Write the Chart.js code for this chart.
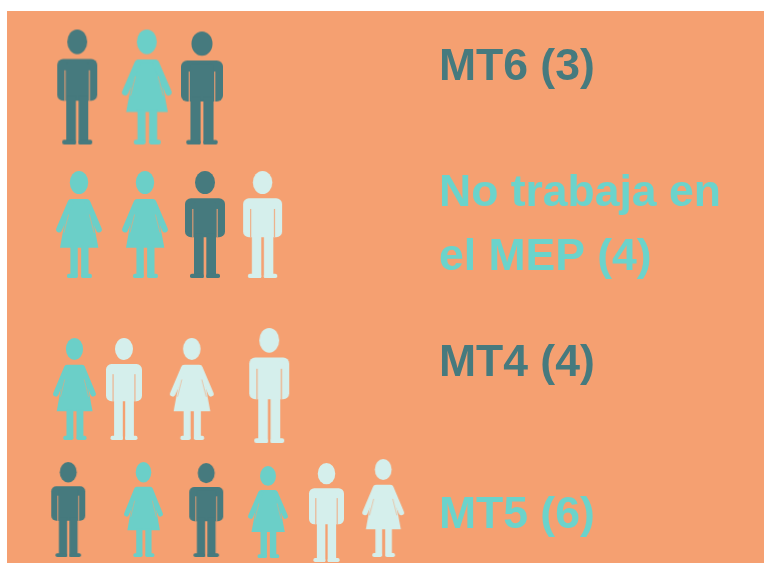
<!DOCTYPE html>
<html lang="es">
<head>
<meta charset="utf-8">
<title>Personas por categoría</title>
<script src="https://cdn.jsdelivr.net/npm/chart.js@4"></script>
<style>
  body { margin: 0; background: #fff; }
  #grafico { position: absolute; left: 7px; top: 11px; background: #F5A071; filter: blur(0.7px); }
</style>
</head>
<body>
<canvas id="grafico" width="757" height="552"></canvas>
<script>
// Datos
const categorias = ['MT6 (3)', ['No trabaja en', 'el MEP (4)'], 'MT4 (4)', 'MT5 (6)'];
const nivelesEtiqueta = [0.57, 2.145, 3.53, 5.05];

// h = hombre, m = mujer; o = oscuro, t = turquesa, c = claro
const mt6Tipos = ['ho', 'mt', 'ho'];
const mt6Columnas = [1.17, 2.33, 3.25];
const mt6Niveles = [0.76, 0.76, 0.77];

const noTrabajaTipos = ['mt', 'mt', 'ho', 'hc'];
const noTrabajaColumnas = [1.2, 2.3, 3.3, 4.26];
const noTrabajaNiveles = [2.135, 2.135, 2.135, 2.135];

const mt4Tipos = ['mt', 'hc', 'mc', 'hc'];
const mt4Columnas = [1.125, 1.95, 3.08, 4.37];
const mt4Niveles = [3.78, 3.78, 3.78, 3.745];

const mt5Tipos = ['ho', 'mt', 'ho', 'mt', 'hc', 'mc'];
const mt5Columnas = [1.02, 2.275, 3.32, 4.35, 5.325, 6.27];
const mt5Niveles = [4.985, 4.985, 4.99, 5.01, 5.015, 4.97];

// Tamaño de cada figura en pantalla [ancho, alto]
const tamanos = [
  [[40, 115], [50, 115], [42, 113]],
  [[46, 107], [46, 107], [40, 107], [39, 107]],
  [[43, 102], [36, 102], [44, 102], [40, 115]],
  [[34, 95], [39, 95], [34, 94], [40, 92], [35, 99], [42, 98]]
];

const colores = { o: '#467A7E', t: '#6BCFC8', c: '#D5EFEC' };
const coloresEtiqueta = ['#467A7E', '#6BD3CB', '#467A7E', '#6BD3CB'];

function rectRedondo(c, x, y, w, h, r) {
  c.beginPath();
  c.roundRect(x, y, w, h, r);
  c.fill();
}

// Figura en coordenadas de 120x344 (hombre) o 150x344 (mujer)
function crearFigura(tipo, tam) {
  const lienzo = document.createElement('canvas');
  lienzo.width = tam[0] + 2;
  lienzo.height = tam[1] + 2;
  const c = lienzo.getContext('2d');
  c.translate(1, 1);
  c.fillStyle = colores[tipo[1]];
  if (tipo[0] === 'h') {
    c.scale(tam[0] / 120, tam[1] / 344);
    c.beginPath();
    c.ellipse(60, 37, 30, 37, 0, 0, Math.PI * 2);
    c.fill();
    rectRedondo(c, 0, 88, 120, 125, 18);
    rectRedondo(c, 27, 100, 66, 108, 4);
    rectRedondo(c, 27, 200, 29, 144, 3);
    rectRedondo(c, 64, 200, 29, 144, 3);
    rectRedondo(c, 15, 330, 41, 14, 6);
    rectRedondo(c, 64, 330, 41, 14, 6);
    // separacion entre brazo y torso
    c.globalCompositeOperation = 'destination-out';
    c.fillRect(22, 122, 3, 91);
    c.fillRect(95, 122, 3, 91);
  } else {
    c.scale(tam[0] / 150, tam[1] / 344);
    c.beginPath();
    c.ellipse(75, 37, 30, 37, 0, 0, Math.PI * 2);
    c.fill();
    // vestido
    c.beginPath();
    c.roundRect(40, 90, 70, 30, 10);
    c.fill();
    c.beginPath();
    c.moveTo(40, 100);
    c.lineTo(110, 100);
    c.lineTo(138, 247);
    c.lineTo(13, 247);
    c.closePath();
    c.fill();
    // brazos
    c.lineCap = 'round';
    c.lineWidth = 19;
    c.strokeStyle = colores[tipo[1]];
    c.beginPath();
    c.moveTo(47, 102);
    c.lineTo(10, 188);
    c.moveTo(103, 102);
    c.lineTo(140, 188);
    c.stroke();
    // piernas
    rectRedondo(c, 47, 240, 24, 100, 3);
    rectRedondo(c, 82, 240, 24, 100, 3);
    rectRedondo(c, 36, 330, 35, 14, 6);
    rectRedondo(c, 82, 330, 35, 14, 6);
    // separacion entre brazo y vestido
    c.globalCompositeOperation = 'destination-out';
    c.lineCap = 'butt';
    c.lineWidth = 1.8;
    c.beginPath();
    c.moveTo(41, 140);
    c.lineTo(26, 198);
    c.moveTo(109, 140);
    c.lineTo(124, 198);
    c.stroke();
  }
  return lienzo;
}

function crearSerie(nombre, tipos, columnas, niveles, tamFila) {
  return {
    label: nombre,
    data: columnas.map((x, i) => ({ x: x, y: niveles[i] })),
    pointStyle: tipos.map((t, i) => crearFigura(t, tamFila[i])),
    showLine: false,
    clip: false
  };
}

new Chart(document.getElementById('grafico').getContext('2d'), {
  type: 'scatter',
  data: {
    datasets: [
      crearSerie('MT6', mt6Tipos, mt6Columnas, mt6Niveles, tamanos[0]),
      crearSerie('No trabaja en el MEP', noTrabajaTipos, noTrabajaColumnas, noTrabajaNiveles, tamanos[1]),
      crearSerie('MT4', mt4Tipos, mt4Columnas, mt4Niveles, tamanos[2]),
      crearSerie('MT5', mt5Tipos, mt5Columnas, mt5Niveles, tamanos[3])
    ]
  },
  options: {
    responsive: false,
    animation: false,
    layout: { padding: 0, autoPadding: false },
    plugins: { legend: { display: false }, tooltip: { enabled: false } },
    scales: {
      x: { type: 'linear', display: false, min: 0, max: 7 },
      y: {
        type: 'linear',
        position: 'right',
        reverse: true,
        min: 0,
        max: 5.52,
        border: { display: false },
        grid: { display: false, drawTicks: false },
        afterBuildTicks: scale => {
          scale.ticks = nivelesEtiqueta.map(v => ({ value: v }));
        },
        afterFit: scale => {
          scale.width = 337;
          scale.paddingTop = 0;
          scale.paddingBottom = 0;
        },
        ticks: {
          autoSkip: false,
          padding: 12,
          color: ctx => coloresEtiqueta[ctx.index],
          font: { family: '"Liberation Sans", Arial, sans-serif', size: 44.5, weight: 'bold', lineHeight: 1.43 },
          callback: (valor, i) => categorias[i]
        }
      }
    }
  }
});
</script>
</body>
</html>
